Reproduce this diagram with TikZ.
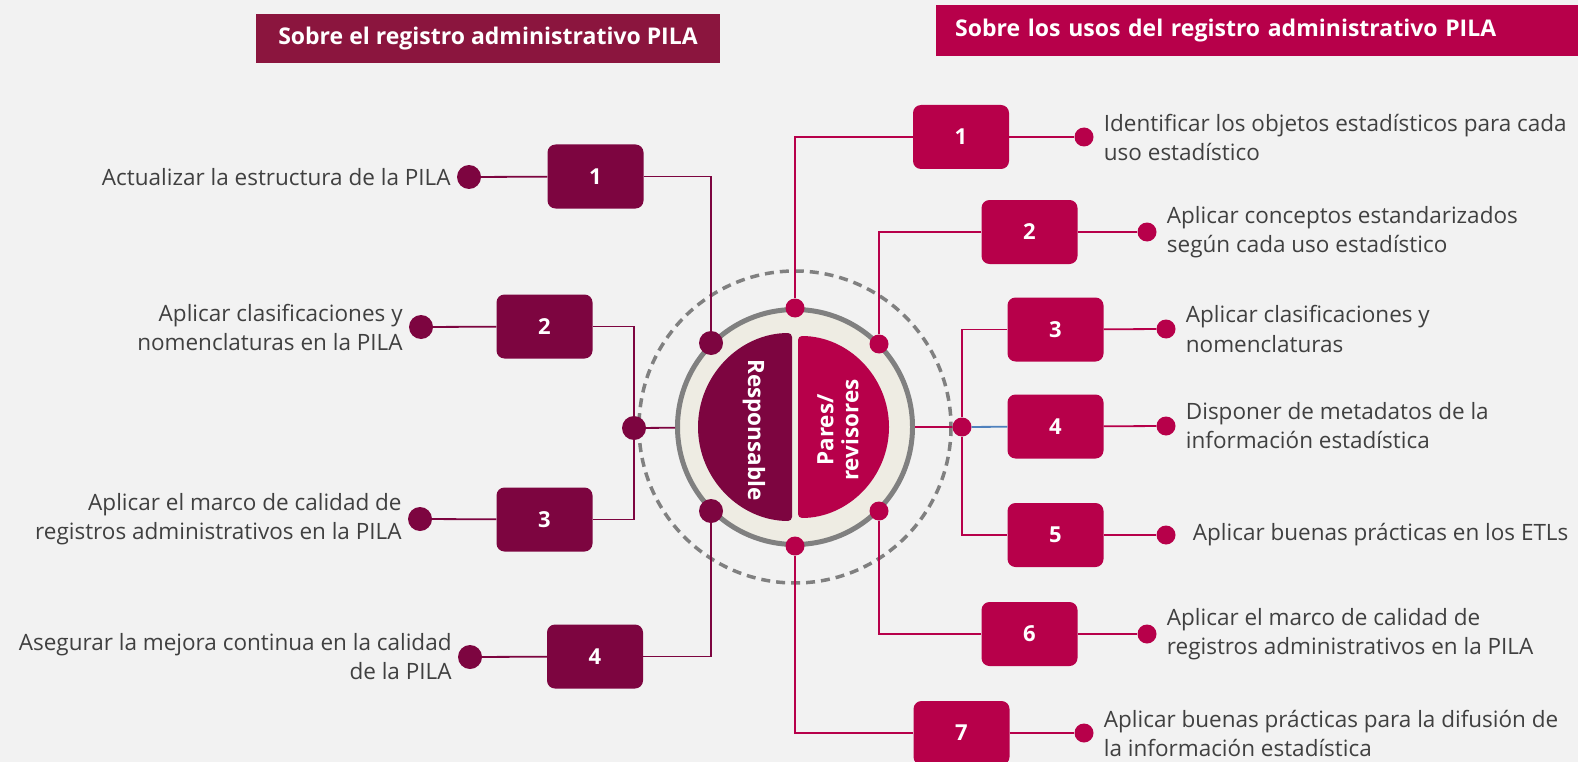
\documentclass[tikz,border=0pt]{standalone}
\usepackage{fontspec}
\setmainfont{Open Sans}
\usetikzlibrary{positioning}
\definecolor{pilabg}{RGB}{242,242,242}
\definecolor{respcol}{RGB}{125,5,64}
\definecolor{headcol}{RGB}{139,21,62}
\definecolor{parescol}{RGB}{183,0,74}
\definecolor{ringfill}{RGB}{238,236,227}
\definecolor{ringgray}{RGB}{128,128,128}
\definecolor{txtgray}{RGB}{64,64,64}
\definecolor{hubblue}{RGB}{79,129,189}
\tikzset{%
  ldot/.style={shape=circle,fill=respcol,inner sep=0pt,minimum size=24pt},
  rdot/.style={shape=circle,fill=parescol,inner sep=0pt,minimum size=19pt},
  lbox/.style={fill=respcol,rounded corners=8pt,minimum width=96pt,minimum height=64pt,
    text=white,font=\bfseries\fontsize{22pt}{26pt}\selectfont},
  rbox/.style={lbox,fill=parescol},
  ledge/.style={draw=respcol,line width=1.8pt},
  redge/.style={draw=parescol,line width=1.8pt},
  ltxt/.style={inner sep=0pt,text=txtgray,align=right,font=\fontsize{22.5pt}{29pt}\selectfont},
  rtxt/.style={ltxt,align=left},
  headbox/.style={text=white,inner sep=0pt,font=\bfseries\fontsize{23pt}{27pt}\selectfont},
  ctext/.style={text=white,inner sep=0pt,font=\bfseries\fontsize{22.5pt}{25pt}\selectfont}
}

\begin{document}
\begin{tikzpicture}[x=1pt,y=-1pt]
    \path[use as bounding box,fill=pilabg] (0,0) rectangle (1578,762);
    % headers
    \node (headL) at (488,38.5)[headbox,fill=headcol,minimum width=464pt,minimum height=49pt]{Sobre el registro administrativo PILA};
    \node (headR) at (936,30.5)[headbox,fill=parescol,anchor=west,text width=604pt,inner xsep=19pt,minimum height=51pt,align=left]{Sobre los usos del registro administrativo PILA};
    % centre
    \draw[ringgray,line width=3.5pt,dash pattern=on 9pt off 6pt] (795,427) circle[radius=156];
    \node (ring) at (795,427)[circle,fill=ringfill,draw=ringgray,line width=5pt,inner sep=0pt,minimum size=235pt]{};
    \fill[respcol,rounded corners=4pt] (792,333) arc[start angle=-90,end angle=-270,radius=94] -- cycle;
    \fill[parescol,rounded corners=4pt] (798,336) arc[start angle=-90,end angle=90,radius=91] -- cycle;
    \node (respLbl) at (754,430)[ctext,rotate=-90]{Responsable};
    \node (paresLbl) at (838,430)[ctext,rotate=90,align=center]{Pares/\\revisores};
    \path
      (795,308) node (rT)[rdot]{}
      (795,546) node (rB)[rdot]{}
      (711,343) node (rLT)[ldot]{}
      (711,511) node (rLB)[ldot]{}
      (879,344) node (rRT)[rdot]{}
      (879,511) node (rRB)[rdot]{}
      (634,428) node (hL)[ldot]{}
      (962,427) node (hR)[rdot]{};
    % left side
    \path
      (595.5,176.5) node (L1)[lbox]{1}
      (544.5,326.5) node (L2)[lbox]{2}
      (544.5,519.5) node (L3)[lbox]{3}
      (595,656.5) node (L4)[lbox]{4}
      (469,177) node (dL1)[ldot]{}
      (421,327) node (dL2)[ldot]{}
      (420,519) node (dL3)[ldot]{}
      (470,657) node (dL4)[ldot]{};
    \node (tL1)[ltxt,left=6pt of dL1]{Actualizar la estructura de la PILA};
    \node (tL2)[ltxt,left=6pt of dL2]{Aplicar clasificaciones y\\nomenclaturas en la PILA};
    \node (tL3)[ltxt,left=6pt of dL3]{Aplicar el marco de calidad de\\registros administrativos en la PILA};
    \node (tL4)[ltxt,left=6pt of dL4]{Asegurar la mejora continua en la calidad\\de la PILA};
    \draw[ledge] (dL1) -- (L1);
    \draw[ledge] (dL2) -- (L2);
    \draw[ledge] (dL3) -- (L3);
    \draw[ledge] (dL4) -- (L4);
    \draw[ledge] (L1.east) -| (rLT);
    \draw[ledge] (L4.east) -| (rLB);
    \draw[ledge] (L2.east) -| (hL);
    \draw[ledge] (L3.east) -| (hL);
    \draw[ledge] (hL) -- (ring);
    % right side
    \path
      (961,137) node (R1)[rbox]{1}
      (1029.5,232) node (R2)[rbox]{2}
      (1055.5,329.5) node (R3)[rbox]{3}
      (1055.5,426.5) node (R4)[rbox]{4}
      (1055.5,535) node (R5)[rbox]{5}
      (1029.5,634) node (R6)[rbox]{6}
      (961.5,733) node (R7)[rbox]{7}
      (1084,137) node (dR1)[rdot]{}
      (1147,232) node (dR2)[rdot]{}
      (1166,329) node (dR3)[rdot]{}
      (1166,426) node (dR4)[rdot]{}
      (1166,535) node (dR5)[rdot]{}
      (1147,634) node (dR6)[rdot]{}
      (1084,733) node (dR7)[rdot]{};
    \node (tR1)[rtxt,right=10pt of dR1]{Identificar los objetos estadísticos para cada\\uso estadístico};
    \node (tR2)[rtxt,right=10pt of dR2]{Aplicar conceptos estandarizados\\según cada uso estadístico};
    \node (tR3)[rtxt,right=10pt of dR3]{Aplicar clasificaciones y\\nomenclaturas};
    \node (tR4)[rtxt,right=10pt of dR4]{Disponer de metadatos de la\\información estadística};
    \node (tR5)[rtxt,right=17pt of dR5]{Aplicar buenas prácticas en los ETLs};
    \node (tR6)[rtxt,right=10pt of dR6]{Aplicar el marco de calidad de\\registros administrativos en la PILA};
    \node (tR7)[rtxt,right=10pt of dR7]{Aplicar buenas prácticas para la difusión de\\la información estadística};
    \draw[redge] (R1) -- (dR1);
    \draw[redge] (R2) -- (dR2);
    \draw[redge] (R3) -- (dR3);
    \draw[redge] (R4) -- (dR4);
    \draw[redge] (R5) -- (dR5);
    \draw[redge] (R6) -- (dR6);
    \draw[redge] (R7) -- (dR7);
    \draw[redge] (R1.west) -| (rT);
    \draw[redge] (R2.west) -| (rRT);
    \draw[redge] (R6.west) -| (rRB);
    \draw[redge] (R7.west) -| (rB);
    \draw[redge] (R3.west) -| (hR);
    \draw[redge] (R5.west) -| (hR);
    \draw[hubblue,line width=1.8pt] (hR) -- (R4);
    \draw[redge] (hR) -- (ring);
\end{tikzpicture}
\end{document}
